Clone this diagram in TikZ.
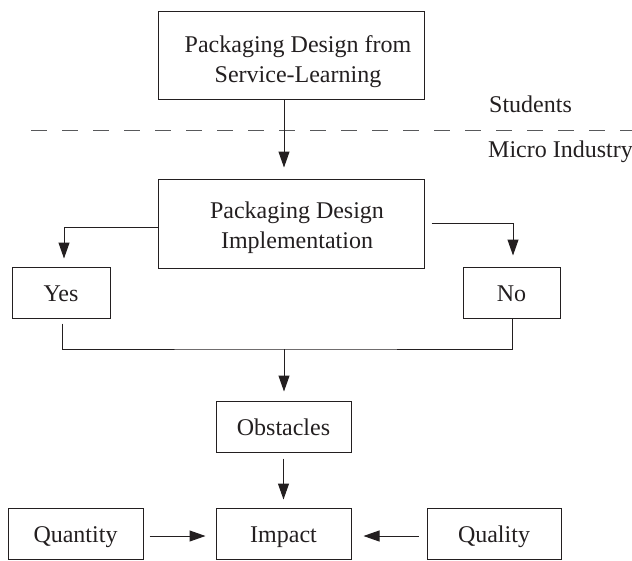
\documentclass[tikz,border=0pt]{standalone}
\usepackage{fontspec}
\setmainfont{Liberation Serif}
\usetikzlibrary{arrows.meta}
\definecolor{ink}{HTML}{231F20}
\definecolor{dashgrey}{HTML}{58595B}
\begin{document}
\begin{tikzpicture}[x=1pt,y=-1pt,
  box/.style={draw=ink, line width=1pt, inner sep=0pt, align=center,
    font=\fontsize{24}{30}\selectfont, text=ink, text height=17pt, text depth=0pt},
  bigbox/.style={draw=ink, line width=1pt, inner sep=0pt},
  txt/.style={inner sep=0pt, align=center, font=\fontsize{24}{30}\selectfont, text=ink},
  conn/.style={draw=ink, line width=1pt},
  arr/.style={conn, -{Triangle[length=16pt,width=11pt]}},
  lbl/.style={inner sep=0pt, font=\fontsize{24}{30}\selectfont, text=ink, anchor=base west}]
\useasboundingbox (0,0) rectangle (632,560);

\node[bigbox, minimum width=266pt, minimum height=88pt] (top) at (291,55) {};
\node[txt] (toptext) at (298,62) {Packaging Design from\\Service-Learning};
\node[bigbox, minimum width=266pt, minimum height=89pt] (mid) at (291,223.5) {};
\node[txt] (midtext) at (297,228) {Packaging Design\\Implementation};
\node[box, minimum width=98pt, minimum height=51pt] (yes) at (61,292.5) {Yes};
\node[box, minimum width=97pt, minimum height=51pt] (no) at (511.5,292.5) {No};
\node[box, minimum width=135pt, minimum height=51pt] (obst) at (283.5,426.5) {Obstacles};
\node[box, minimum width=135pt, minimum height=51pt] (qty) at (75.5,533.5) {Quantity};
\node[box, minimum width=135pt, minimum height=51pt] (imp) at (283.5,533.5) {Impact};
\node[box, minimum width=134pt, minimum height=51pt] (qual) at (494,533.5) {Quality};

\node[lbl] (stud) at (489,112) {Students};
\node[lbl] (micro) at (488,157) {Micro Industry};

\draw[draw=dashgrey, line width=1pt, dash pattern=on 16pt off 15pt] (31,130) -- (632,130);

\draw[arr, shorten >=11pt] ([xshift=-7pt]top.south) -- ([xshift=-7pt]mid.north);
\draw[arr, shorten >=8pt] ([yshift=-3.5pt]mid.west) -| ([xshift=3pt]yes.north);
\draw[arr, shorten <=7pt, shorten >=11pt] (mid.east) -| ([xshift=1.5pt]no.north);

\coordinate (j) at (284,349);
\draw[conn, shorten <=5pt] ([xshift=1pt]yes.south) |- (j) -| ([xshift=0.5pt]no.south);
\draw[arr, shorten >=9pt] (j) -- (j |- obst.north);
\draw[arr, shorten <=6pt, shorten >=8pt] (obst.south) -- (imp.north);
\draw[arr, shorten <=6pt, shorten >=10pt] ([yshift=-2.5pt]qty.east) -- ([yshift=-2.5pt]imp.west);
\draw[arr, shorten <=8pt, shorten >=12pt] ([yshift=-2.5pt]qual.west) -- ([yshift=-2.5pt]imp.east);
\end{tikzpicture}
\end{document}
